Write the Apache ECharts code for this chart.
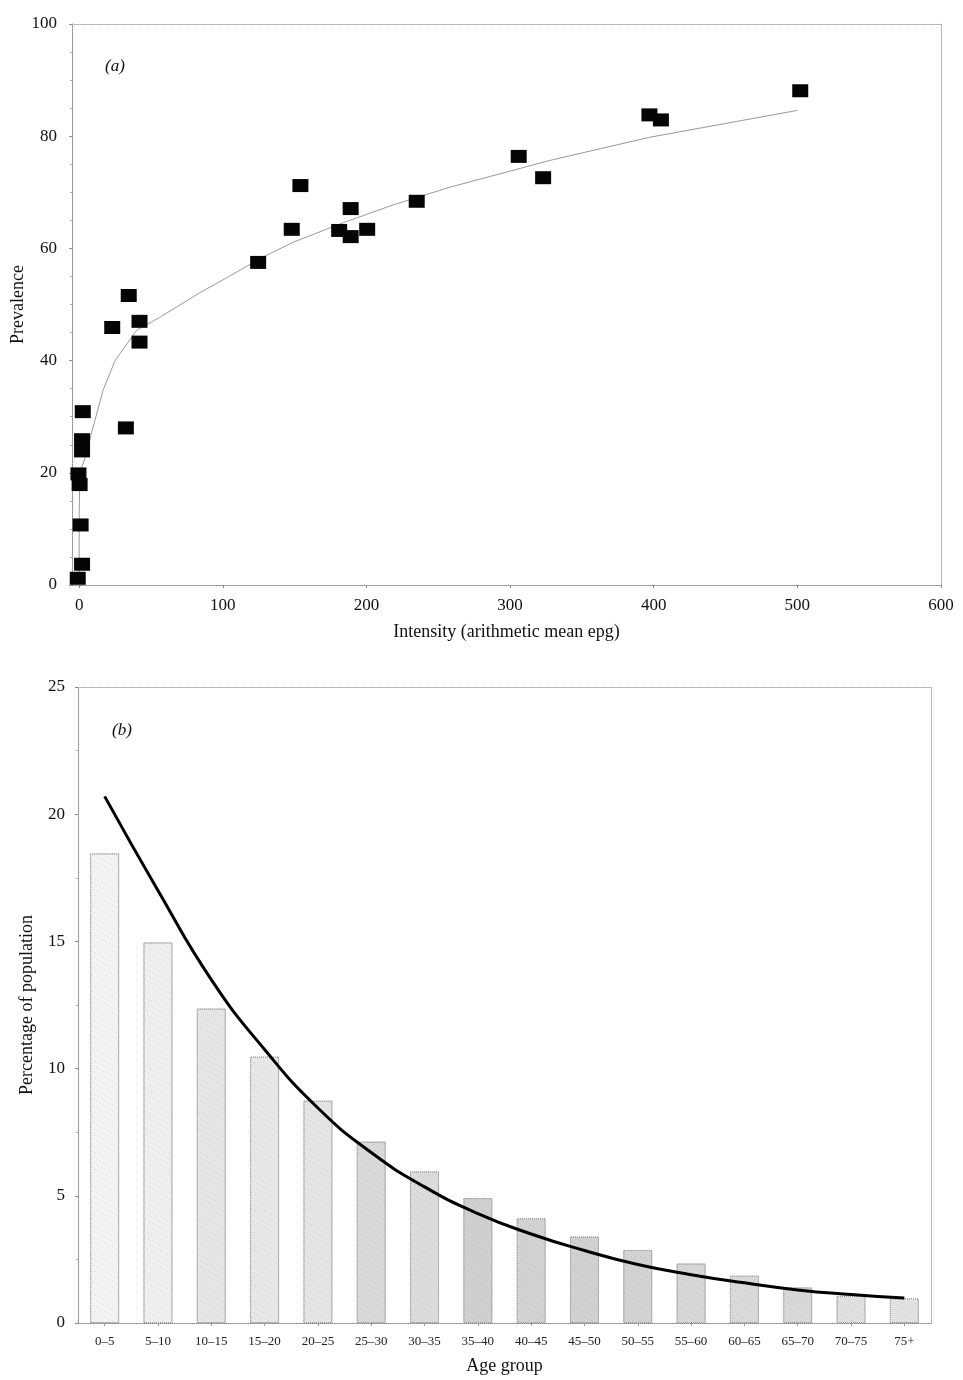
<!DOCTYPE html>
<html>
<head>
<meta charset="utf-8">
<script src="https://cdn.jsdelivr.net/npm/echarts@6/dist/echarts.min.js"></script>
<style>
html,body{margin:0;padding:0;background:#fff;}
#c{width:963px;height:1380px;}
</style>
</head>
<body>
<div id="c"></div>
<script>
// ---- Panel (a): prevalence vs intensity ----
const scatterPoints = [
  [-1,1.2],[2,3.7],[1,10.7],[0.3,17.9],[-0.5,19.8],[2,23.9],[2,25.9],[2.5,30.9],
  [32.5,28],[23,45.9],[34.5,51.6],[42,47],[42,43.3],[124.6,57.5],[148,63.4],
  [154,71.2],[181,63.2],[189,62.1],[189,67.1],[200.5,63.4],[235,68.4],
  [306,76.4],[323,72.6],[397,83.8],[405,82.9],[502,88.1]
];
const fitLine = [
  [0,1.2],[0,6.6],[0,12.7],[0.3,16.8],[1,20.5],[4.2,22.7],[9,27.5],[16.7,34.8],
  [25,40],[40,45.4],[56,47.7],[84,52.1],[103,54.8],[126,58.2],[149,61.1],
  [184,64.6],[218,67.7],[258,70.9],[328,75.7],[397,79.8],[500,84.6]
];
const xTicksA = [0,100,200,300,400,500,600];

// ---- Panel (b): age distribution ----
const ageGroups = ['0–5','5–10','10–15','15–20','20–25','25–30','30–35','35–40',
  '40–45','45–50','50–55','55–60','60–65','65–70','70–75','75+'];
const popPercent = [18.46,14.96,12.36,10.47,8.74,7.13,5.96,4.91,4.12,3.40,2.87,2.34,1.86,1.40,1.06,0.97];
const fittedCurve = [20.7,17.0,13.5,10.75,8.45,6.7,5.35,4.3,3.5,2.85,2.3,1.9,1.58,1.3,1.12,0.98];
const barShades = ['#f3f3f3','#efefef','#e6e6e6','#e8e8e8','#e5e5e5','#d9d9d9','#dcdcdc','#d0d0d0',
  '#d2d2d2','#d1d1d1','#d3d3d3','#d7d7d7','#dadada','#d8d8d8','#e0e0e0','#e2e2e2'];

const serif = 'Liberation Serif';
const axisDot = {show:true, onZero:false, lineStyle:{color:'#888', width:1, type:'dotted'}};
const borderDot = {show:true, onZero:false, lineStyle:{color:'#aaa', width:1, type:'dotted'}};

const chart = echarts.init(document.getElementById('c'));
chart.setOption({
  backgroundColor:'#fff',
  animation:false,
  textStyle:{fontFamily:serif, color:'#111'},
  grid:[
    {left:72, top:24, width:869, height:561, containLabel:false, outerBoundsMode:'none'},
    {left:78, top:687, width:853, height:636, containLabel:false, outerBoundsMode:'none'}
  ],
  xAxis:[
    {gridIndex:0, type:'value', min:-5, max:600,
     name:'Intensity (arithmetic mean epg)', nameLocation:'middle', nameGap:38,
     nameTextStyle:{fontFamily:serif, fontSize:18, color:'#111'},
     axisLine:axisDot, axisTick:{show:true, customValues:xTicksA, length:3, lineStyle:{color:'#888'}},
     axisLabel:{customValues:xTicksA, fontFamily:serif, fontSize:17, color:'#111', margin:12},
     splitLine:{show:false}},
    {gridIndex:0, type:'value', position:'top', min:-5, max:600,
     axisLine:borderDot, axisTick:{show:false}, axisLabel:{show:false}, splitLine:{show:false}},
    {gridIndex:1, type:'category', data:ageGroups,
     name:'Age group', nameLocation:'middle', nameGap:34,
     nameTextStyle:{fontFamily:serif, fontSize:18, color:'#111'},
     axisLine:axisDot, axisTick:{show:true, alignWithLabel:true, length:3, lineStyle:{color:'#999'}},
     axisLabel:{fontFamily:serif, fontSize:13, color:'#222', margin:12, interval:0},
     splitLine:{show:false}},
    {gridIndex:1, type:'category', data:ageGroups, position:'top',
     axisLine:borderDot, axisTick:{show:false}, axisLabel:{show:false}}
  ],
  yAxis:[
    {gridIndex:0, type:'value', min:0, max:100, interval:20,
     name:'Prevalence', nameLocation:'middle', nameGap:45, nameRotate:90, nameMoveOverlap:false,
     nameTextStyle:{fontFamily:serif, fontSize:18, color:'#111'},
     axisLine:axisDot, axisTick:{show:true, length:3, lineStyle:{color:'#888'}},
     minorTick:{show:true, splitNumber:4, length:2, lineStyle:{color:'#aaa'}},
     axisLabel:{fontFamily:serif, fontSize:17, color:'#111', margin:15},
     splitLine:{show:false}},
    {gridIndex:0, type:'value', position:'right', min:0, max:100,
     axisLine:borderDot, axisTick:{show:false}, axisLabel:{show:false}, splitLine:{show:false}},
    {gridIndex:1, type:'value', min:0, max:25, interval:5,
     name:'Percentage of population', nameLocation:'middle', nameGap:42, nameRotate:90,
     nameTextStyle:{fontFamily:serif, fontSize:18, color:'#111'},
     axisLine:axisDot, axisTick:{show:true, length:3, lineStyle:{color:'#888'}},
     minorTick:{show:true, splitNumber:2, length:2, lineStyle:{color:'#aaa'}},
     axisLabel:{fontFamily:serif, fontSize:17, color:'#111', margin:13},
     splitLine:{show:false}},
    {gridIndex:1, type:'value', position:'right', min:0, max:25,
     axisLine:borderDot, axisTick:{show:false}, axisLabel:{show:false}, splitLine:{show:false}}
  ],
  graphic:[
    {type:'text', left:105, top:58, style:{text:'(a)', font:'italic 17px "Liberation Serif"', fill:'#111'}},
    {type:'text', left:112, top:722, style:{text:'(b)', font:'italic 17px "Liberation Serif"', fill:'#111'}}
  ],
  series:[
    {type:'line', xAxisIndex:0, yAxisIndex:0, data:fitLine, symbol:'none', smooth:false,
     lineStyle:{color:'#9a9a9a', width:1}, z:2},
    {type:'scatter', xAxisIndex:0, yAxisIndex:0, data:scatterPoints, clip:false,
     symbol:'rect', symbolSize:[16,13], itemStyle:{color:'#050505', opacity:1}, z:3},
    {type:'bar', xAxisIndex:2, yAxisIndex:2, data:popPercent, barWidth:29,
     itemStyle:{color:function(p){return barShades[p.dataIndex];}, borderColor:'#9a9a9a', borderWidth:1, borderType:'dotted',
       decal:{symbol:'rect', symbolSize:1, color:'rgba(120,120,120,0.25)', dashArrayX:[1,3], dashArrayY:[1,4], rotation:0.5}}},
    {type:'line', xAxisIndex:2, yAxisIndex:2, data:fittedCurve, symbol:'none', smooth:0.5,
     lineStyle:{color:'#000', width:3}, z:4}
  ]
});
</script>
</body>
</html>
